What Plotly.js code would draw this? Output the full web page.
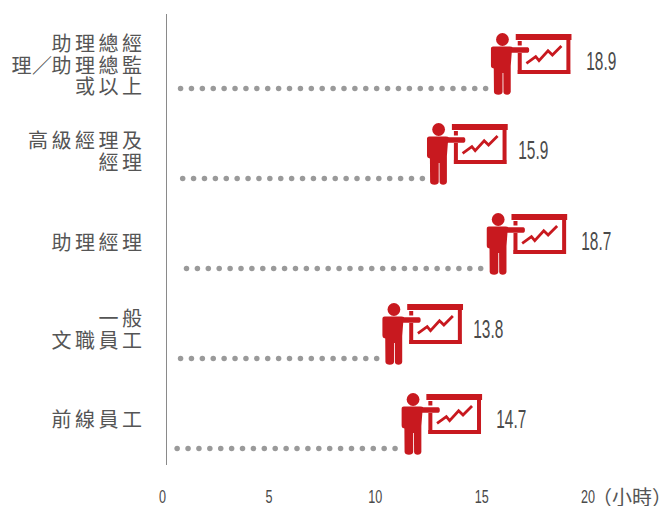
<!DOCTYPE html>
<html>
<head>
<meta charset="utf-8">
<script src="https://cdn.plot.ly/plotly-3.0.1.min.js"></script>
<style>
html,body{margin:0;padding:0;background:#fff}
#chart{width:662px;height:506px}
.ytick text{letter-spacing:3.5px}
</style>
</head>
<body>
<div id="chart"></div>
<script>
var categories = ["助理總經<br>理／助理總監<br>或以上","高級經理及<br>經理","助理經理","一般<br>文職員工","前線員工"];
var values = [18.9,15.9,18.7,13.8,14.7];
var valueLabels = ["18.9","15.9","18.7","13.8","14.7"];
var rows = [0,1,2,3,4];
var xTicks = [0,5,10,15,20];
var xTickLabels = ["0","5","10","15","20"];
var unitLabel = "（小時）";
var dotStart = [0.52,0.62,0.80,0.52,0.36];
var dotCount = [29,23,28,19,21];
var dotStep = 0.512;
var dotRowOffset = 0.272;
var labelNudge = [1.5,-2,-1,-4,-4];
var labelLinePitch = 21.5;
var valueNudgeX = [0,-4,0,-4,0];
var valueNudgeY = [0,1,0,2,2];

var RED = "#c8191f";
var iconSvg = '<svg xmlns="http://www.w3.org/2000/svg" viewBox="0 0 81 62" width="81" height="62" preserveAspectRatio="none">'
 + '<g fill="'+RED+'">'
 + '<circle cx="11.7" cy="6.5" r="6.4"/>'
 + '<path d="M2.5 13.5 H19 Q21 13.5 22 14.2 L37 14.2 Q38.5 14.2 38.5 17 Q38.5 19.8 37 19.8 L21 19.8 L20 33 L20 59 Q19.5 61.8 16.3 61.8 Q13 61.8 12.7 59 L12.6 40 H11.8 L11.8 59 Q11.4 61.8 7.6 61.8 Q3.6 61.8 3.2 59 L3 35.5 Q0 35 0 32 L0 16 Q0 13.5 2.5 13.5 Z"/>'
 + '<rect x="25" y="1" width="56" height="6"/>'
 + '<rect x="27" y="8" width="4" height="4.5"/>'
 + '<rect x="27" y="20" width="4" height="21"/>'
 + '<rect x="27" y="37" width="52.5" height="4"/>'
 + '<rect x="75.7" y="7" width="4" height="34"/>'
 + '</g>'
 + '<polyline fill="none" stroke="'+RED+'" stroke-width="2.8" points="35.7,30.3 45,23.7 48.3,27.7 57.3,17.7 61.7,22 70.7,13"/>'
 + '</svg>';
var iconUri = "data:image/svg+xml;base64," + btoa(iconSvg);

var pxPerUnit = 21.3, pxPerRow = 90;

var dotX = [], dotY = [];
rows.forEach(function(r){
  for (var k=0;k<dotCount[r];k++){
    dotX.push(dotStart[r]+k*dotStep);
    dotY.push(r+dotRowOffset);
  }
});

var traces = [{
  type:"scatter", mode:"markers", x:dotX, y:dotY,
  marker:{color:"#9a9a9a",size:5.5,line:{width:0}},
  hoverinfo:"skip", showlegend:false
}];

var NARROW = '"Liberation Sans Narrow","Liberation Sans",sans-serif';
var CJK = '"Noto Sans CJK TC","Noto Sans",sans-serif';

var annotations = rows.map(function(r){
  return {x:values[r],y:r,xref:"x",yref:"y",text:valueLabels[r],showarrow:false,
    xanchor:"left",yanchor:"middle",xshift:2+valueNudgeX[r],yshift:3+valueNudgeY[r],
    font:{family:NARROW,size:26,color:"#4a4a4a"}};
});
annotations.push({x:20,y:0,xref:"x",yref:"paper",yanchor:"top",xanchor:"left",xshift:-5,yshift:-15,
  text:unitLabel,showarrow:false,font:{family:CJK,size:20,color:"#555"}});

var images = rows.map(function(r){
  return {source:iconUri,xref:"x",yref:"y",x:values[r],y:r,
    sizex:81/pxPerUnit,sizey:62/pxPerRow,xanchor:"right",yanchor:"middle",
    sizing:"stretch",layer:"above"};
});

var layout = {
  width:662,height:506,
  margin:{l:166.5,r:12,t:14,b:41,pad:0},
  paper_bgcolor:"#fff",plot_bgcolor:"#fff",showlegend:false,
  xaxis:{range:[-0.117,22.58],tickmode:"array",tickvals:xTicks,ticktext:xTickLabels,
    showgrid:false,zeroline:false,showline:false,ticks:"outside",ticklen:15,tickcolor:"rgba(0,0,0,0)",
    ticklabelshift:-7,
    tickfont:{family:NARROW,size:18,color:"#4a4a4a"}},
  yaxis:{range:[4.4556,-0.5556],tickmode:"array",tickvals:rows,ticktext:categories,
    showgrid:false,zeroline:false,showline:true,linecolor:"#8a8a8a",linewidth:1.5,
    ticks:"outside",ticklen:16,tickcolor:"rgba(0,0,0,0)",
    tickfont:{family:CJK,size:20,color:"#555"}},
  annotations:annotations,images:images
};

Plotly.newPlot("chart",traces,layout,{displayModeBar:false,staticPlot:true}).then(function(){
  document.querySelectorAll(".annotation-text").forEach(function(t){
    if(/^\d/.test(t.textContent)){t.setAttribute("textLength","30");t.setAttribute("lengthAdjust","spacingAndGlyphs");}
  });
  document.querySelectorAll(".xtick text").forEach(function(t){
    var n=t.textContent.length;
    t.setAttribute("textLength",String(n*7));t.setAttribute("lengthAdjust","spacingAndGlyphs");
  });
  var tickTexts = document.querySelectorAll(".ytick text");
  tickTexts.forEach(function(t,i){
    var lines = t.querySelectorAll("tspan.line");
    lines.forEach(function(l,k){
      l.setAttribute("dy",(k*labelLinePitch)+"px");
      if(l.textContent.indexOf("／")>=0){ l.setAttribute("dx","0 -3 -4"); }
    });
    var n = Math.max(lines.length,1);
    var shift = (n-1)*(26-labelLinePitch)/2 + labelNudge[i];
    t.parentNode.setAttribute("transform","translate(0,"+shift+")");
  });
});
</script>
</body>
</html>
